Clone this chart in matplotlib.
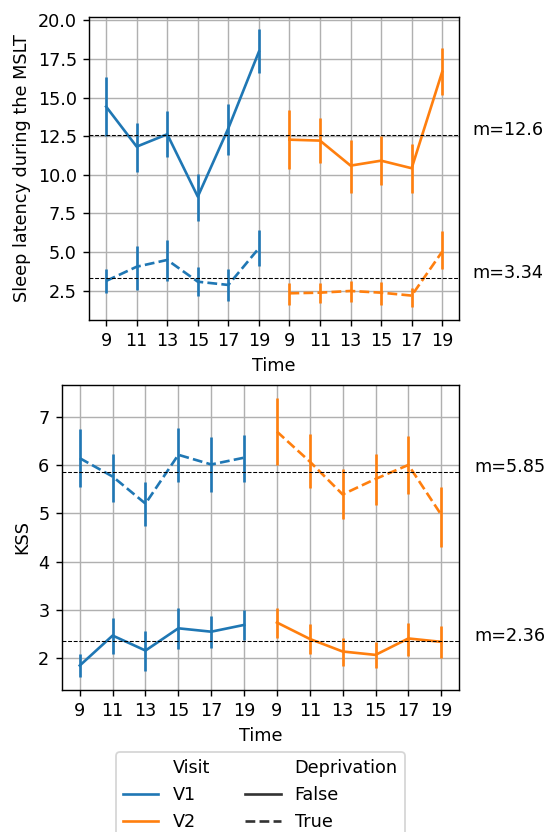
import matplotlib.pyplot as plt
from matplotlib.lines import Line2D
import numpy as np

times = [9, 11, 13, 15, 17, 19]
tick_labels = [str(t) for t in times] * 2  # V1 then V2

# MSLT sleep latency (top panel): mean, low, high per time point
mslt_v1_false = [14.42, 11.83, 12.63, 8.59, 13.02, 17.98]
mslt_v1_false_lo = [12.52, 10.21, 11.14, 7.03, 11.27, 16.62]
mslt_v1_false_hi = [16.32, 13.34, 14.14, 10.06, 14.59, 19.43]
mslt_v1_true = [3.13, 4.05, 4.49, 3.08, 2.87, 5.25]
mslt_v1_true_lo = [2.33, 2.55, 3.15, 2.16, 1.85, 4.10]
mslt_v1_true_hi = [3.89, 5.39, 5.78, 4.05, 3.92, 6.43]
mslt_v2_false = [12.28, 12.22, 10.60, 10.92, 10.43, 16.68]
mslt_v2_false_lo = [10.36, 10.75, 8.85, 9.33, 8.81, 15.19]
mslt_v2_false_hi = [14.20, 13.67, 12.26, 12.52, 12.00, 18.20]
mslt_v2_true = [2.33, 2.37, 2.48, 2.37, 2.18, 5.03]
mslt_v2_true_lo = [1.59, 1.72, 1.79, 1.57, 1.42, 3.89]
mslt_v2_true_hi = [3.02, 2.98, 3.13, 3.08, 2.66, 6.39]
mslt_means = [12.6, 3.34]

# KSS (bottom panel)
kss_v1_false = [1.85, 2.47, 2.16, 2.62, 2.55, 2.69]
kss_v1_false_lo = [1.61, 2.09, 1.74, 2.19, 2.21, 2.38]
kss_v1_false_hi = [2.09, 2.84, 2.57, 3.05, 2.88, 3.00]
kss_v1_true = [6.14, 5.76, 5.20, 6.21, 6.01, 6.15]
kss_v1_true_lo = [5.54, 5.24, 4.74, 5.64, 5.45, 5.65]
kss_v1_true_hi = [6.74, 6.23, 5.65, 6.76, 6.57, 6.63]
kss_v2_false = [2.74, 2.40, 2.14, 2.07, 2.41, 2.34]
kss_v2_false_lo = [2.41, 2.09, 1.85, 1.79, 2.05, 2.00]
kss_v2_false_hi = [3.05, 2.71, 2.41, 2.34, 2.74, 2.67]
kss_v2_true = [6.69, 6.07, 5.39, 5.71, 6.00, 4.97]
kss_v2_true_lo = [6.00, 5.52, 4.88, 5.17, 5.40, 4.31]
kss_v2_true_hi = [7.38, 6.64, 5.91, 6.23, 6.60, 5.54]
kss_means = [5.85, 2.36]

blue = '#1f77b4'
orange = '#ff7f0e'


def draw_series(ax, x, mean, lo, hi, color, ls):
    ax.plot(x, mean, color=color, linestyle=ls, linewidth=1.5)
    ax.vlines(x, lo, hi, color=color, linewidth=1.5)


def draw_panel(ax, series, means, ylabel, ylim):
    x1 = np.arange(len(times))
    x2 = x1 + len(times)
    for (x, mean, lo, hi, color, ls) in [
        (x1, *series[0], blue, '-'),
        (x1, *series[1], blue, '--'),
        (x2, *series[2], orange, '-'),
        (x2, *series[3], orange, '--'),
    ]:
        draw_series(ax, x, mean, lo, hi, color, ls)
    for m in means:
        ax.axhline(m, color='black', linestyle='--', linewidth=0.6)
        ax.text(12, m, f"m={m:.3g}")
    ax.set_xticks(np.arange(len(tick_labels)))
    ax.set_xticklabels(tick_labels)
    ax.set_xlim(-0.55, 11.55)
    ax.set_ylim(*ylim)
    ax.set_xlabel('Time')
    ax.set_ylabel(ylabel)
    ax.grid(True)
    ax.set_axisbelow(True)


dpi = 127
fig = plt.figure(figsize=(546 / dpi, 832 / dpi), dpi=dpi)
ax1 = fig.add_axes([0.1636, 0.6154, 0.6771, 0.3646])
ax2 = fig.add_axes([0.1130, 0.1707, 0.7282, 0.3666])

draw_panel(ax1, [
    (mslt_v1_false, mslt_v1_false_lo, mslt_v1_false_hi),
    (mslt_v1_true, mslt_v1_true_lo, mslt_v1_true_hi),
    (mslt_v2_false, mslt_v2_false_lo, mslt_v2_false_hi),
    (mslt_v2_true, mslt_v2_true_lo, mslt_v2_true_hi),
], mslt_means, 'Sleep latency during the MSLT', (0.6, 20.25))

draw_panel(ax2, [
    (kss_v1_false, kss_v1_false_lo, kss_v1_false_hi),
    (kss_v1_true, kss_v1_true_lo, kss_v1_true_hi),
    (kss_v2_false, kss_v2_false_lo, kss_v2_false_hi),
    (kss_v2_true, kss_v2_true_lo, kss_v2_true_hi),
], kss_means, 'KSS', (1.344, 7.655))

blank = Line2D([], [], linestyle='none')
handles = [blank,
           Line2D([], [], color=blue, lw=1.5),
           Line2D([], [], color=orange, lw=1.5),
           blank,
           Line2D([], [], color='#333333', lw=1.5, ls='-'),
           Line2D([], [], color='#333333', lw=1.5, ls='--')]
labels = ['Visit', 'V1', 'V2', 'Deprivation', 'False', 'True']
ax2.legend(handles, labels, loc='upper center', bbox_to_anchor=(0.5, -0.175),
           ncol=2)

fig.savefig('out.png', dpi=dpi)
